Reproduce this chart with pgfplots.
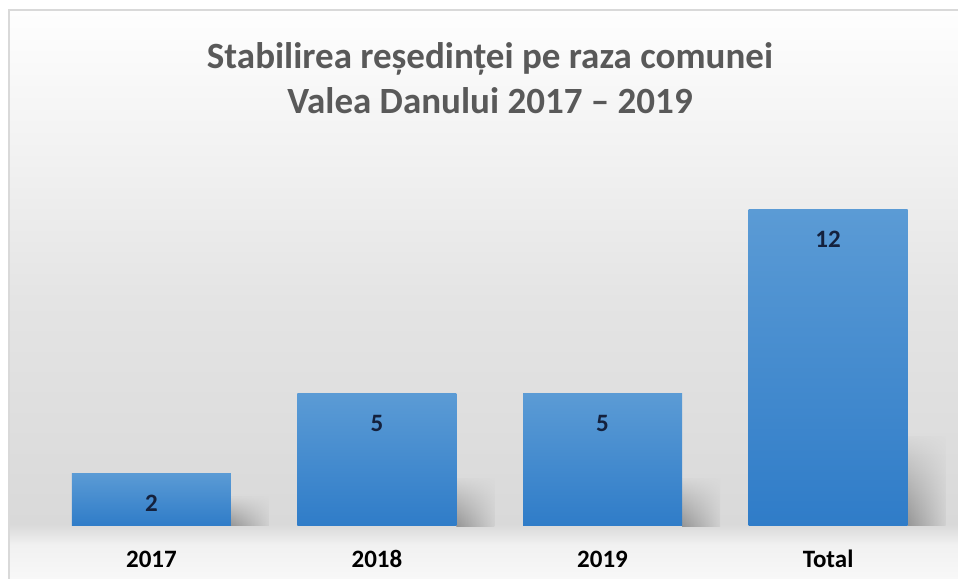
\documentclass[border=0pt]{standalone}
\usepackage{pgfplots}
\pgfplotsset{compat=1.18}
\usetikzlibrary{fadings}
\usepackage{fontspec}
\setmainfont{Carlito}
\definecolor{barTop}{HTML}{5B9BD5}
\definecolor{barBot}{HTML}{2F7CC8}
\definecolor{titlegray}{HTML}{595959}
\definecolor{labelcol}{HTML}{14213D}
\definecolor{bordergray}{HTML}{D9D9D9}
\definecolor{bg0}{HTML}{F8F8F8}
\definecolor{bg1}{HTML}{F1F1F1}
\definecolor{bg2}{HTML}{D9D9D9}
\definecolor{bg3}{HTML}{E4E4E4}
\definecolor{bg4}{HTML}{F2F2F2}
\definecolor{bg5}{HTML}{FEFEFE}
\definecolor{shadowDark}{HTML}{8E8E8E}
\definecolor{shadowLight}{HTML}{D0D0D0}
\pgfdeclareverticalshading{bgshade}{100bp}{color(0bp)=(bg0); color(25bp)=(bg0); color(28bp)=(bg1); color(29.8bp)=(bg2); color(49.5bp)=(bg3); color(62.7bp)=(bg4); color(75bp)=(bg5); color(100bp)=(bg5)}
\tikzfading[name=shadowfade, top color=transparent!95, bottom color=transparent!10]

\begin{document}
\begin{tikzpicture}
\useasboundingbox (-10bp,-53bp) rectangle (948bp,526bp);
\shade[shading=bgshade] (-1bp,-53bp) rectangle (948bp,516bp);
\draw[line width=1.5bp, bordergray] (-1bp,-53bp) -- (-1bp,516bp) -- (948bp,516bp);
\begin{axis}[
  at={(0,0)}, anchor=south west,
  width=948bp, height=516bp, scale only axis,
  xmin=-0.627, xmax=3.576, ymin=0, ymax=19.545,
  ybar,
  axis line style={draw=none},
  hide y axis,
  ytick=\empty,
  xtick={0,1,2,3},
  xticklabels={2017,2018,2019,Total},
  major tick length=0pt,
  /pgf/number format/assume math mode=true,
  xticklabel style={font=\fontsize{25bp}{30bp}\selectfont\bfseries, text=black, anchor=base, yshift=-41bp},
  title={Stabilirea reședinței pe raza comunei\\Valea Danului 2017 – 2019},
  title style={at={(axis description cs:0.5063,0.926)}, anchor=north, inner sep=0pt, align=center,
    font=\fontsize{37bp}{45bp}\selectfont\bfseries, text=titlegray},
  clip=false,
  shadowbar/.style={draw=none, left color=shadowDark, right color=shadowLight, path fading=shadowfade, bar shift=98.5bp, bar width=38bp},
  mainbar/.style={draw=none, top color=barTop, bottom color=barBot, bar shift=0pt, bar width=159bp,
    nodes near coords,
    nodes near coords style={anchor=base, yshift=-38bp, font=\fontsize{25bp}{30bp}\selectfont\bfseries, text=labelcol}},
]
% shadows
\addplot[shadowbar] coordinates {(0,1.1)};
\addplot[shadowbar] coordinates {(1,1.8)};
\addplot[shadowbar] coordinates {(2,1.8)};
\addplot[shadowbar] coordinates {(3,3.4)};
% bars
\addplot[mainbar] coordinates {(0,2)};
\addplot[mainbar] coordinates {(1,5)};
\addplot[mainbar] coordinates {(2,5)};
\addplot[mainbar] coordinates {(3,12)};
\end{axis}
\end{tikzpicture}
\end{document}
